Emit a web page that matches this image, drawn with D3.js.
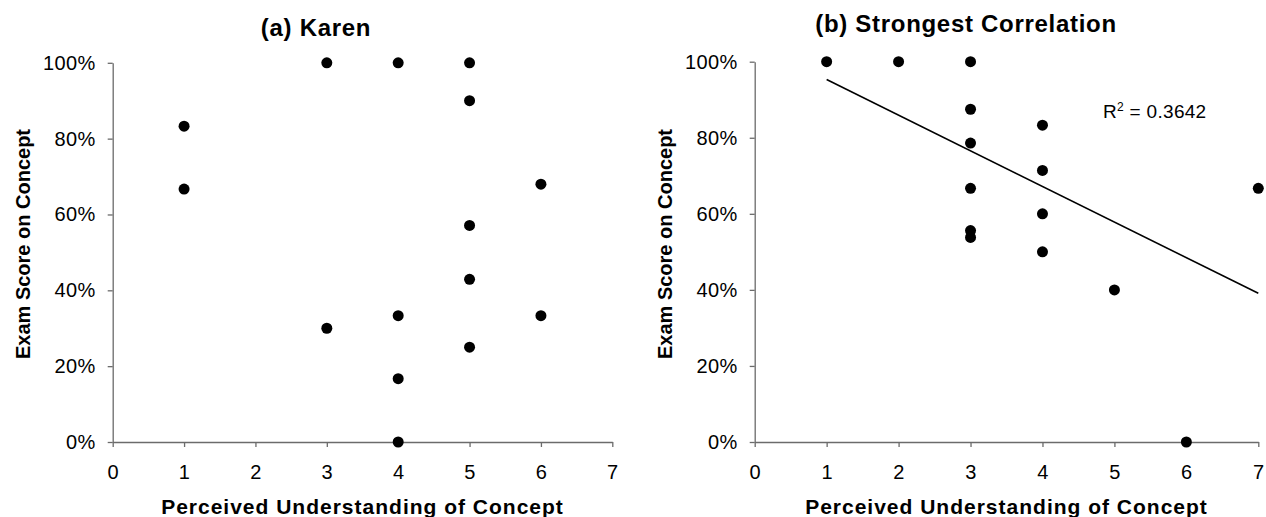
<!DOCTYPE html>
<html>
<head>
<meta charset="utf-8">
<script src="https://cdn.jsdelivr.net/npm/d3@7"></script>
<style>
  body { margin: 0; background: #fff; }
  svg { display: block; font-family: "Liberation Sans", Arial, sans-serif; }
</style>
</head>
<body>
<div id="chart"></div>
<script>
// panel (a) Karen
const karenX = [1, 1, 3, 3, 4, 4, 4, 4, 5, 5, 5, 5, 5, 6, 6];
const karenY = [0.833, 0.667, 1.0, 0.30, 1.0, 0.333, 0.167, 0.0, 1.0, 0.90, 0.571, 0.429, 0.25, 0.68, 0.333];

// panel (b) Strongest Correlation
const strongX = [1, 2, 3, 3, 3, 3, 3, 3, 4, 4, 4, 4, 5, 6, 7];
const strongY = [1.0, 1.0, 1.0, 0.875, 0.786, 0.667, 0.556, 0.538, 0.833, 0.714, 0.60, 0.50, 0.40, 0.0, 0.667];

// trend line end points
const trendX = [1, 7];
const trendY = [0.953, 0.391];

const xTicks = [0, 1, 2, 3, 4, 5, 6, 7];
const yTicks = [0, 0.2, 0.4, 0.6, 0.8, 1.0];

const W = 1266, H = 517;
const axisColor = "#6b6b6b";

const svg = d3.select("#chart").append("svg")
    .attr("width", W)
    .attr("height", H);

svg.append("rect").attr("width", W).attr("height", H).attr("fill", "#fff");

function panel(opts) {
    const x = d3.scaleLinear().domain([0, 7]).range([opts.left, opts.right]);
    const y = d3.scaleLinear().domain([0, 1]).range([opts.bottom, opts.top]);

    const g = svg.append("g");

    const ya = g.append("g")
        .attr("transform", "translate(" + opts.left + ",0)")
        .call(d3.axisLeft(y).tickValues(yTicks).tickFormat(d3.format(".0%")).tickSize(5).tickSizeOuter(0).tickPadding(12));
    const xa = g.append("g")
        .attr("transform", "translate(0," + opts.bottom + ")")
        .call(d3.axisBottom(x).tickValues(xTicks).tickFormat(d3.format("d")).tickSize(5).tickSizeOuter(0).tickPadding(18));

    [ya, xa].forEach(a => {
        a.selectAll("path,line").attr("stroke", axisColor).attr("stroke-width", 1.3);
        a.selectAll("text")
            .attr("fill", "#000")
            .style("font-family", "'Liberation Sans', Arial, sans-serif")
            .style("font-size", "20px")
            .style("letter-spacing", "0.4px");
    });

    g.append("text")
        .attr("x", opts.titleX)
        .attr("y", opts.titleY)
        .attr("text-anchor", "middle")
        .style("font-size", "24px")
        .style("font-weight", "bold")
        .style("letter-spacing", "0.7px")
        .text(opts.title);

    g.append("text")
        .attr("x", (opts.left + opts.right) / 2)
        .attr("y", 514)
        .attr("text-anchor", "middle")
        .style("font-size", "21px")
        .style("font-weight", "bold")
        .style("letter-spacing", "1px")
        .text("Perceived Understanding of Concept");

    g.append("text")
        .attr("transform", "translate(" + (opts.left - 83) + "," + 244 + ") rotate(-90)")
        .attr("text-anchor", "middle")
        .style("font-size", "20px")
        .style("font-weight", "bold")
        .text("Exam Score on Concept");

    if (opts.trendX) {
        g.append("path")
            .datum(d3.zip(opts.trendX, opts.trendY))
            .attr("fill", "none")
            .attr("stroke", "#000")
            .attr("stroke-width", 1.6)
            .attr("d", d3.line().x(d => x(d[0])).y(d => y(d[1])));
    }

    g.selectAll("circle.pt")
        .data(d3.zip(opts.xs, opts.ys))
        .join("circle")
        .attr("class", "pt")
        .attr("cx", d => x(d[0]))
        .attr("cy", d => y(d[1]))
        .attr("r", 5.5)
        .attr("fill", "#000");

    if (opts.r2) {
        const t = g.append("text")
            .attr("x", opts.r2x)
            .attr("y", opts.r2y)
            .style("font-size", "19px")
            .style("letter-spacing", "0.3px");
        t.append("tspan").text("R");
        t.append("tspan").attr("dy", -7).style("font-size", "12px").text("2");
        t.append("tspan").attr("dy", 7).text(" = " + opts.r2);
    }
}

panel({
    left: 112.7, right: 612.3, top: 62.8, bottom: 442,
    xs: karenX, ys: karenY,
    title: "(a) Karen", titleX: 316, titleY: 36
});

panel({
    left: 754.7, right: 1258.3, top: 61.7, bottom: 442,
    xs: strongX, ys: strongY,
    trendX: trendX, trendY: trendY,
    title: "(b) Strongest Correlation", titleX: 966, titleY: 32,
    r2: "0.3642", r2x: 1103, r2y: 118
});
</script>
</body>
</html>
